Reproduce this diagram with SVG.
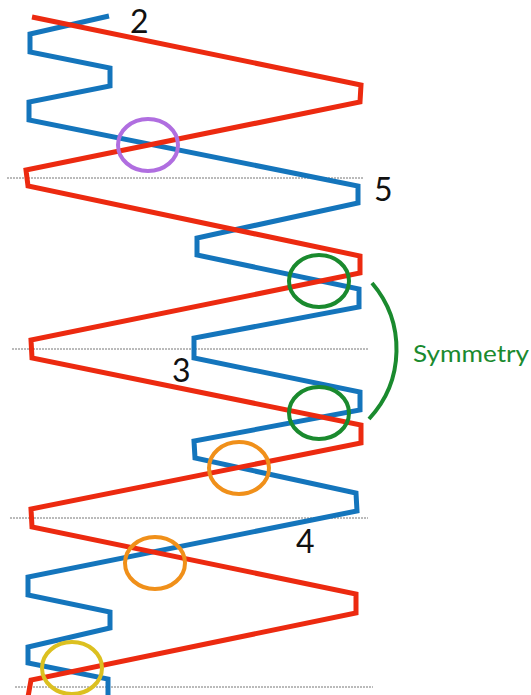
<svg xmlns="http://www.w3.org/2000/svg" width="531" height="695" viewBox="0 0 531 695">
<style>
.guide{stroke:#777;stroke-width:1;stroke-dasharray:2 1;fill:none}
.wave{fill:none;stroke-width:5;stroke-linejoin:miter;stroke-miterlimit:10}
.ring{fill:none;stroke-width:4}
.num{font-family:"Lato","Liberation Sans",sans-serif;font-size:32px;fill:#111}
</style>
<rect width="531" height="695" fill="#fff"/>
<g id="guides">
<line class="guide" x1="7" y1="178" x2="363" y2="178"/>
<line class="guide" x1="12" y1="349" x2="368" y2="349"/>
<line class="guide" x1="10" y1="518" x2="368" y2="518"/>
<line class="guide" x1="15" y1="687" x2="373" y2="687"/>
</g>
<g id="blue-wave">
<polyline class="wave" stroke="#1475bc" points="109,16 30,34 30,52 110,68 110,86 29,102 29,120 358,186 358,203 197,238 197,255 359,289 359,307 194,338 194,358 360,392 360,410 194,441 195,458 356,493 357,511 28,577 28,595 110,612 110,628 28,647 28,663 108,679 108,697"/>
</g>
<g id="red-wave">
<polyline class="wave" stroke="#ec2a10" points="32,17 361,85 360,102 26,170 28,186 360,256 360,273 31,340 32,358 361,425 361,443 31,509 32,527 356,594 356,613 31,680 28,697"/>
</g>
<g id="rings">
<ellipse id="ring-purple" class="ring" stroke="#b06ee0" cx="148" cy="145" rx="30" ry="26"/>
<ellipse id="ring-green-1" class="ring" stroke="#1a8a2e" cx="319" cy="281" rx="30" ry="26"/>
<ellipse id="ring-green-2" class="ring" stroke="#1a8a2e" cx="319" cy="413" rx="30" ry="26"/>
<ellipse id="ring-orange-1" class="ring" stroke="#f0901a" cx="239" cy="468" rx="30" ry="26"/>
<ellipse id="ring-orange-2" class="ring" stroke="#f0901a" cx="155" cy="563" rx="30" ry="26"/>
<ellipse id="ring-yellow" class="ring" stroke="#dcc020" cx="72" cy="668" rx="30" ry="26"/>
</g>
<g id="symmetry">
<path d="M372,283 A102,102 0 0 1 369,419" fill="none" stroke="#1a8a2e" stroke-width="4"/>
<text x="413" y="362" font-family="Lato,'Liberation Sans',sans-serif" font-size="24" fill="#1a8a2e" textLength="116" lengthAdjust="spacingAndGlyphs">Symmetry</text>
</g>
<g id="labels">
<text class="num" x="130" y="33">2</text>
<text class="num" x="374" y="201">5</text>
<text class="num" x="172" y="382">3</text>
<text class="num" x="296" y="553">4</text>
</g>
</svg>
